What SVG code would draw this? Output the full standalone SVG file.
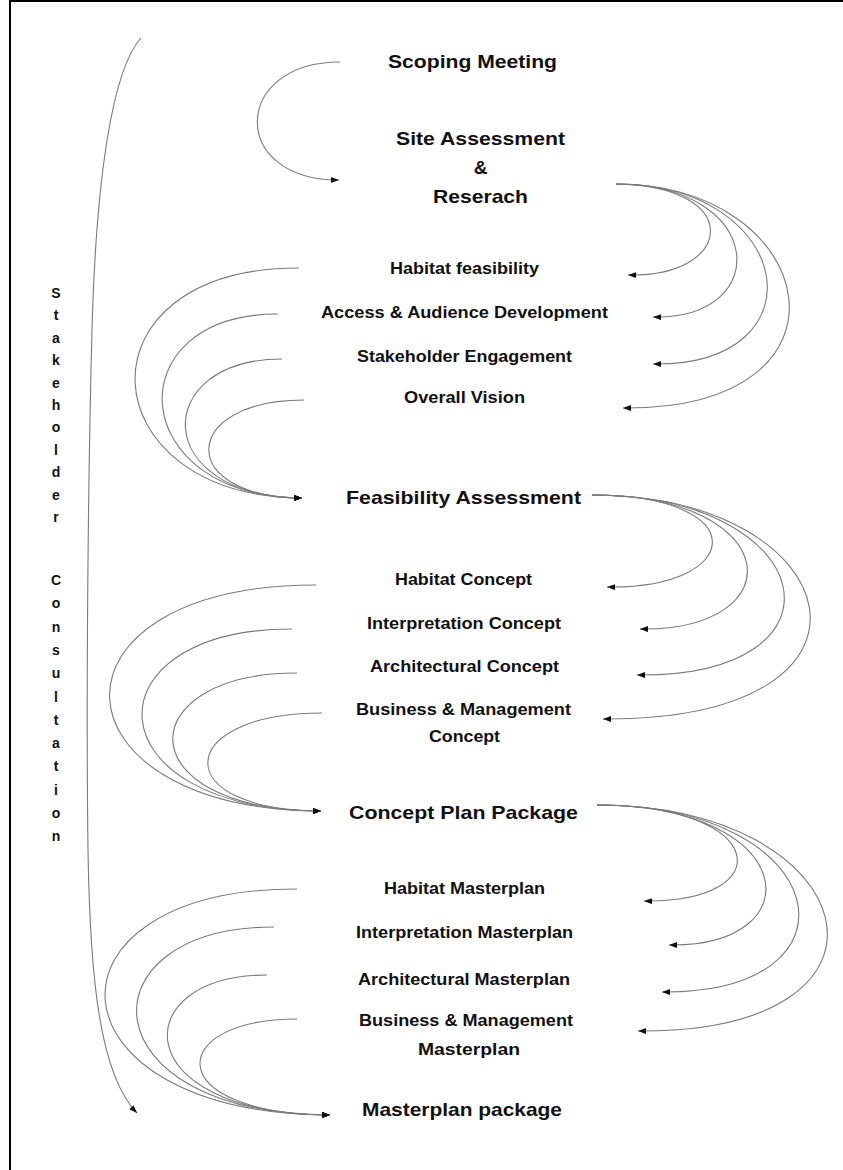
<svg xmlns="http://www.w3.org/2000/svg" width="843" height="1170" viewBox="0 0 843 1170">
<defs>
<marker id="ah" viewBox="0 0 8 6" refX="8" refY="3" markerWidth="8" markerHeight="6" markerUnits="userSpaceOnUse" orient="auto">
<path d="M0,0 L8,3 L0,6 z" fill="#111"/>
</marker>
<style>
.c{fill:none;stroke:#7a7a7a;stroke-width:1.1;marker-end:url(#ah)}
text{font-family:"Liberation Sans",Arial,sans-serif;font-weight:bold;fill:#111}
.h{font-size:19px}
.s{font-size:16px}
.v{font-size:14px;text-anchor:middle}
</style>
</defs>
<rect width="843" height="1170" fill="#fff"/>
<path d="M10,1 H843 M10,0 V1170" stroke="#000" stroke-width="2" fill="none"/>

<g id="connectors">
<path class="c" d="M340,62 C232,62 228,180 339,180"/>
<path class="c" d="M141,38 C112,70 96,180 92,330 C88,480 86,700 88,850 C90,980 100,1075 137,1113"/>
<path class="c" d="M616,184 C745,186 735,277 628,275"/>
<path class="c" d="M616,184 C765,184 775,319 653,317"/>
<path class="c" d="M616,184 C795,184 825,366 653,364"/>
<path class="c" d="M616,184 C820,184 870,410 623,408"/>
<path class="c" d="M299,268 C72,268 88,497 302,498"/>
<path class="c" d="M278,314 C115,314 125,497 302,498"/>
<path class="c" d="M282,359 C150,359 150,497 302,498"/>
<path class="c" d="M304,400 C180,400 175,497 302,498"/>
<path class="c" d="M592,495 C755,495 745,589 607,587"/>
<path class="c" d="M592,495 C785,495 795,631 640,629"/>
<path class="c" d="M592,495 C820,495 858,677 637,675"/>
<path class="c" d="M592,495 C850,495 910,721 603,719"/>
<path class="c" d="M316,585 C35,585 45,810 321,811"/>
<path class="c" d="M292,629 C85,629 90,810 321,811"/>
<path class="c" d="M297,673 C130,673 125,810 321,811"/>
<path class="c" d="M322,713 C175,713 165,810 321,811"/>
<path class="c" d="M597,805 C770,805 780,903 644,901"/>
<path class="c" d="M597,805 C800,805 815,947 669,945"/>
<path class="c" d="M597,805 C835,805 870,994 662,992"/>
<path class="c" d="M597,805 C865,805 925,1033 638,1031"/>
<path class="c" d="M297,889 C30,889 42,1114 330,1115"/>
<path class="c" d="M274,927 C80,927 85,1114 330,1115"/>
<path class="c" d="M267,975 C125,975 125,1114 330,1115"/>
<path class="c" d="M297,1019 C165,1019 160,1114 330,1115"/>
</g>

<g id="scoping"><text class="h" x="388" y="67.5" textLength="169" lengthAdjust="spacingAndGlyphs">Scoping Meeting</text></g>
<g id="site">
<text class="h" x="396" y="145" textLength="169" lengthAdjust="spacingAndGlyphs">Site Assessment</text>
<text class="h" x="480.5" y="174" text-anchor="middle">&amp;</text>
<text class="h" x="433" y="203" textLength="95" lengthAdjust="spacingAndGlyphs">Reserach</text>
</g>
<g id="habitat-feasibility"><text class="s" x="390" y="274" textLength="149" lengthAdjust="spacingAndGlyphs">Habitat feasibility</text></g>
<g id="access"><text class="s" x="321" y="318" textLength="287" lengthAdjust="spacingAndGlyphs">Access &amp; Audience Development</text></g>
<g id="stakeholder-engagement"><text class="s" x="357" y="362" textLength="215" lengthAdjust="spacingAndGlyphs">Stakeholder Engagement</text></g>
<g id="overall-vision"><text class="s" x="404" y="403" textLength="121" lengthAdjust="spacingAndGlyphs">Overall Vision</text></g>
<g id="feasibility-assessment"><text class="h" x="346" y="504" textLength="235" lengthAdjust="spacingAndGlyphs">Feasibility Assessment</text></g>
<g id="habitat-concept"><text class="s" x="395" y="585" textLength="137" lengthAdjust="spacingAndGlyphs">Habitat Concept</text></g>
<g id="interpretation-concept"><text class="s" x="367" y="629" textLength="194" lengthAdjust="spacingAndGlyphs">Interpretation Concept</text></g>
<g id="architectural-concept"><text class="s" x="370" y="672" textLength="189" lengthAdjust="spacingAndGlyphs">Architectural Concept</text></g>
<g id="business-concept">
<text class="s" x="356" y="715" textLength="215" lengthAdjust="spacingAndGlyphs">Business &amp; Management</text>
<text class="s" x="429" y="742" textLength="71" lengthAdjust="spacingAndGlyphs">Concept</text>
</g>
<g id="concept-plan-package"><text class="h" x="349" y="819" textLength="229" lengthAdjust="spacingAndGlyphs">Concept Plan Package</text></g>
<g id="habitat-masterplan"><text class="s" x="384" y="894" textLength="161" lengthAdjust="spacingAndGlyphs">Habitat Masterplan</text></g>
<g id="interpretation-masterplan"><text class="s" x="356" y="938" textLength="217" lengthAdjust="spacingAndGlyphs">Interpretation Masterplan</text></g>
<g id="architectural-masterplan"><text class="s" x="358" y="985" textLength="212" lengthAdjust="spacingAndGlyphs">Architectural Masterplan</text></g>
<g id="business-masterplan">
<text class="s" x="359" y="1026" textLength="214" lengthAdjust="spacingAndGlyphs">Business &amp; Management</text>
<text class="s" x="418" y="1055" textLength="102" lengthAdjust="spacingAndGlyphs">Masterplan</text>
</g>
<g id="masterplan-package"><text class="h" x="362" y="1116" textLength="200" lengthAdjust="spacingAndGlyphs">Masterplan package</text></g>

<g id="stakeholder-consultation">
<text class="v" x="56" y="298">S</text>
<text class="v" x="56" y="320.4">t</text>
<text class="v" x="56" y="342.8">a</text>
<text class="v" x="56" y="365.2">k</text>
<text class="v" x="56" y="387.6">e</text>
<text class="v" x="56" y="410">h</text>
<text class="v" x="56" y="432.4">o</text>
<text class="v" x="56" y="454.8">l</text>
<text class="v" x="56" y="477.2">d</text>
<text class="v" x="56" y="499.6">e</text>
<text class="v" x="56" y="522">r</text>
<text class="v" x="56" y="585">C</text>
<text class="v" x="56" y="608.3">o</text>
<text class="v" x="56" y="631.6">n</text>
<text class="v" x="56" y="654.9">s</text>
<text class="v" x="56" y="678.2">u</text>
<text class="v" x="56" y="701.5">l</text>
<text class="v" x="56" y="724.8">t</text>
<text class="v" x="56" y="748.1">a</text>
<text class="v" x="56" y="771.4">t</text>
<text class="v" x="56" y="794.7">i</text>
<text class="v" x="56" y="818">o</text>
<text class="v" x="56" y="841.3">n</text>
</g>
</svg>
